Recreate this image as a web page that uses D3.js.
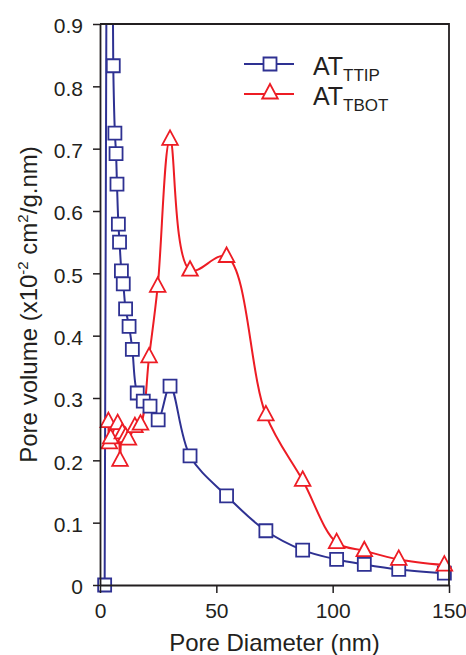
<!DOCTYPE html>
<html>
<head>
<meta charset="utf-8">
<script src="https://cdn.jsdelivr.net/npm/d3@7"></script>
<style>
  body { margin: 0; background: #fff; }
  text { font-family: Arial, "Liberation Sans", sans-serif; fill: #231f20; }
</style>
</head>
<body>
<svg width="466" height="655"></svg>
<script>
// pore diameter (nm) and pore volume
var ttipX = [2.0, 4.0, 5.7, 6.4, 6.9, 7.3, 7.9, 8.4, 9.2, 10.0, 11.0, 12.5, 13.9, 16.0, 18.6, 21.5, 25.0, 30.1, 38.7, 54.4, 71.3, 87.1, 101.7, 113.6, 128.4, 148.0];
var ttipY = [0, 1.8, 0.833, 0.725, 0.692, 0.643, 0.579, 0.550, 0.504, 0.483, 0.443, 0.415, 0.378, 0.308, 0.295, 0.287, 0.265, 0.319, 0.207, 0.143, 0.087, 0.056, 0.041, 0.033, 0.025, 0.019];

var tbotX = [3.6, 4.0, 4.6, 7.6, 8.6, 9.6, 11.0, 12.2, 15.0, 17.4, 21.1, 24.8, 30.1, 38.7, 54.4, 71.3, 87.1, 101.7, 113.6, 128.4, 148.0];
var tbotY = [0.262, 0.228, 0.236, 0.259, 0.200, 0.244, 0.238, 0.234, 0.254, 0.258, 0.366, 0.479, 0.715, 0.505, 0.527, 0.273, 0.168, 0.068, 0.055, 0.041, 0.032];

var xTicks = [0, 50, 100, 150],
    yTicks = [0, 0.1, 0.2, 0.3, 0.4, 0.5, 0.6, 0.7, 0.8, 0.9];

var blue = "#2e3192",
    red = "#ed1c24",
    ink = "#231f20";

var svg = d3.select("svg"),
    pLeft = 100, pRight = 449, pTop = 24, pBottom = 585;

var x = d3.scaleLinear().domain([0, 150]).range([pLeft, pRight]),
    y = d3.scaleLinear().domain([0, 0.9]).range([pBottom, pTop]);

// only the top edge cuts the curves, the zero point sits on the axis
svg.append("defs").append("clipPath").attr("id", "clip")
  .append("rect").attr("x", 0).attr("y", pTop).attr("width", 466).attr("height", 655 - pTop);

var series = [
  {name: "TTIP", xs: ttipX, ys: ttipY, color: blue, shape: "square"},
  {name: "TBOT", xs: tbotX, ys: tbotY, color: red, shape: "triangle"}
];

var line = d3.line()
    .x(function(d) { return x(d[0]); })
    .y(function(d) { return y(d[1]); })
    .curve(d3.curveCatmullRom.alpha(0.5));

function markerPath(shape) {
  if (shape == "square") return "M-6.5,-6.5H6.5V6.5H-6.5Z";
  return "M0,-9L7.8,5.5H-7.8Z";
}

var plot = svg.append("g").attr("clip-path", "url(#clip)");

series.forEach(function(s) {
  var pts = s.xs.map(function(v, i) { return [v, s.ys[i]]; });
  plot.append("path")
    .datum(pts)
    .attr("fill", "none")
    .attr("stroke", s.color)
    .attr("stroke-width", 2)
    .attr("d", line);
});

series.forEach(function(s) {
  var pts = s.xs.map(function(v, i) { return [v, s.ys[i]]; });
  plot.append("g").selectAll("path")
    .data(pts)
    .enter().append("path")
    .attr("transform", function(d) { return "translate(" + x(d[0]) + "," + y(d[1]) + ")"; })
    .attr("d", markerPath(s.shape))
    .attr("fill", "#fff")
    .attr("stroke", s.color)
    .attr("stroke-width", 1.8);
});

// frame on top and right
svg.append("path")
  .attr("d", "M" + pLeft + "," + pTop + "H" + pRight + "V" + pBottom)
  .attr("fill", "none").attr("stroke", ink).attr("stroke-width", 1.8);

var xAxis = svg.append("g")
    .attr("transform", "translate(0," + pBottom + ")")
    .call(d3.axisBottom(x).tickValues(xTicks).tickSizeInner(8).tickSizeOuter(0).tickPadding(10).tickFormat(d3.format("d")));

var yAxis = svg.append("g")
    .attr("transform", "translate(" + pLeft + ",0)")
    .call(d3.axisLeft(y).tickValues(yTicks).tickSizeInner(7).tickSizeOuter(0).tickPadding(10)
      .tickFormat(function(d) { return d == 0 ? "0" : d3.format(".1f")(d); }));

[xAxis, yAxis].forEach(function(a) {
  a.select(".domain").attr("stroke", ink).attr("stroke-width", 1.8);
  a.selectAll(".tick line").attr("stroke", ink).attr("stroke-width", 1.5);
  a.selectAll(".tick text").attr("font-size", 21).attr("font-family", "Arial, 'Liberation Sans', sans-serif").attr("fill", ink);
});
yAxis.selectAll(".tick text").attr("dy", "0.42em");

// axis titles
svg.append("text")
  .attr("x", (pLeft + pRight) / 2)
  .attr("y", 651)
  .attr("text-anchor", "middle")
  .attr("font-size", 24)
  .text("Pore Diameter (nm)");

var yt = svg.append("text")
  .attr("transform", "translate(37," + (pTop + pBottom) / 2 + ") rotate(-90)")
  .attr("text-anchor", "middle")
  .attr("font-size", 24);
yt.append("tspan").text("Pore volume (x10");
yt.append("tspan").attr("font-size", 15).attr("dy", -9).text("-2");
yt.append("tspan").attr("dy", 9).text(" cm");
yt.append("tspan").attr("font-size", 15).attr("dy", -9).text("2");
yt.append("tspan").attr("dy", 9).text("/g.nm)");

// legend
var legend = svg.append("g");
series.forEach(function(s, i) {
  var ly = 64 + i * 30;
  legend.append("line")
    .attr("x1", 244).attr("x2", 294).attr("y1", ly).attr("y2", ly)
    .attr("stroke", s.color).attr("stroke-width", 2);
  legend.append("path")
    .attr("transform", "translate(270," + (ly - (s.shape == "triangle" ? 1 : 0)) + ")")
    .attr("d", markerPath(s.shape))
    .attr("fill", "#fff").attr("stroke", s.color).attr("stroke-width", 1.8);
  var t = legend.append("text")
    .attr("x", 313).attr("y", ly + 11)
    .attr("font-size", 25);
  t.append("tspan").text("AT");
  t.append("tspan").attr("font-size", 17).attr("dy", 6).text(s.name);
});
</script>
</body>
</html>
